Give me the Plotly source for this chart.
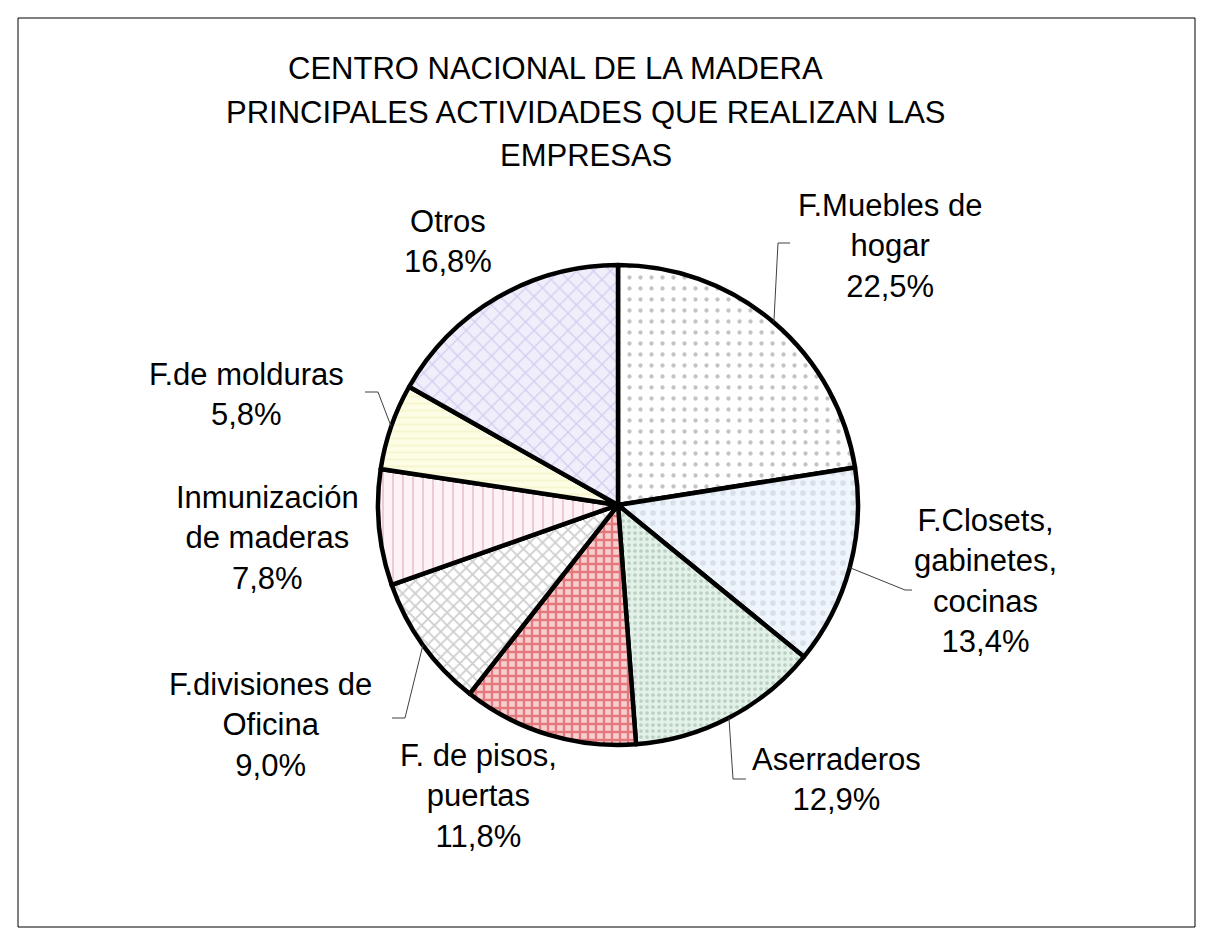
import math
import plotly.graph_objects as go

# datos del grafico
categorias = [
    "F.Muebles de hogar",
    "F.Closets, gabinetes, cocinas",
    "Aserraderos",
    "F. de pisos, puertas",
    "F.divisiones de Oficina",
    "Inmunización de maderas",
    "F.de molduras",
    "Otros",
]
etiquetas = [
    "F.Muebles de<br>hogar",
    "F.Closets,<br>gabinetes,<br>cocinas",
    "Aserraderos",
    "F. de pisos,<br>puertas",
    "F.divisiones de<br>Oficina",
    "Inmunización<br>de maderas",
    "F.de molduras",
    "Otros",
]
porcentajes = [22.5, 13.4, 12.9, 11.8, 9.0, 7.8, 5.8, 16.8]
titulo = [
    "CENTRO NACIONAL DE LA MADERA",
    "PRINCIPALES ACTIVIDADES QUE REALIZAN LAS",
    "EMPRESAS",
]

# estilos de relleno (fondo, trama, forma, tamaño, solidez)
fondos = ["#ffffff", "#eef5fc", "#e3f2e8", "#f7cfcf", "#ffffff", "#fdf2f5", "#fdfde6", "#f1eefc"]
tramas = ["#8a8a8a", "#c4cad6", "#93ab9b", "#d0242b", "#9c9c9c", "#dca3b6", "#eeeeb8", "#b8aee4"]
formas = [".", ".", ".", "+", "x", "|", "-", "x"]
tamanos = [11, 10, 6, 8, 9, 10, 7, 12]
solidez = [0.12, 0.25, 0.3, 0.5, 0.35, 0.2, 0.3, 0.22]

# disposicion (pixeles de la ventana; la pagina tiene 8 px de margen)
VW, VH = 1212, 944
OFF = 8
W, H = VW - 2 * OFF, VH - 2 * OFF
CX, CY, R = 618, 505, 240
FUENTE = "Arial, Liberation Sans, sans-serif"
pos_titulo = [(555, 69), (586, 113), (586, 155)]
pos_etiquetas = [(890, 246), (985, 581), (836, 779), (478, 796),
                 (270, 725), (267, 538), (246, 394), (448, 241)]
# codo y final de las lineas guia (None = sin linea)
guias = [((778, 243), (790, 243)), ((905, 590), (912, 590)), ((733, 779), (746, 779)),
         None, ((405, 718), (392, 718)), None, ((378, 392), (365, 392)), None]


def px(x):
    return (x - OFF) / W


def py(y):
    return 1 - (y - OFF) / H


total = sum(porcentajes)
angulos_medios = []
acum = 0.0
for v in porcentajes:
    angulos_medios.append((acum + v / 2) / total * 360)
    acum += v

fig = go.Figure(go.Pie(
    labels=categorias,
    values=porcentajes,
    sort=False,
    direction="clockwise",
    rotation=0,
    textinfo="none",
    hoverinfo="label+percent",
    domain=dict(x=[px(CX - R), px(CX + R)], y=[py(CY + R), py(CY - R)]),
    marker=dict(
        colors=fondos,
        line=dict(color="black", width=4.5),
        pattern=dict(shape=formas, fgcolor=tramas, bgcolor=fondos,
                     size=tamanos, solidity=solidez, fillmode="overlay"),
    ),
))

anotaciones = []
for linea, (x, y) in zip(titulo, pos_titulo):
    anotaciones.append(dict(x=px(x), y=py(y), xref="paper", yref="paper", text=linea,
                            showarrow=False, xanchor="center", yanchor="middle",
                            font=dict(family=FUENTE, size=31, color="black")))

formas_layout = [dict(type="rect", xref="paper", yref="paper",
                      x0=px(18), y0=py(927), x1=px(1195), y1=py(18),
                      line=dict(color="black", width=1))]

for et, v, (x, y), ang, guia in zip(etiquetas, porcentajes, pos_etiquetas, angulos_medios, guias):
    texto = et + "<br>" + f"{v:.1f}".replace(".", ",") + "%"
    anotaciones.append(dict(x=px(x), y=py(y), xref="paper", yref="paper", text=texto,
                            showarrow=False, xanchor="center", yanchor="middle", align="center",
                            font=dict(family=FUENTE, size=31, color="black")))
    if guia is not None:
        t = math.radians(ang)
        ex, ey = CX + R * math.sin(t), CY - R * math.cos(t)
        (cx_, cy_), (fx, fy) = guia
        camino = f"M {px(ex)} {py(ey)} L {px(cx_)} {py(cy_)} L {px(fx)} {py(fy)}"
        formas_layout.append(dict(type="path", xref="paper", yref="paper", path=camino,
                                  line=dict(color="#404040", width=1)))

fig.update_layout(
    width=W, height=H,
    margin=dict(l=0, r=0, t=0, b=0),
    paper_bgcolor="white",
    showlegend=False,
    annotations=anotaciones,
    shapes=formas_layout,
)

fig.write_html("out.html")
